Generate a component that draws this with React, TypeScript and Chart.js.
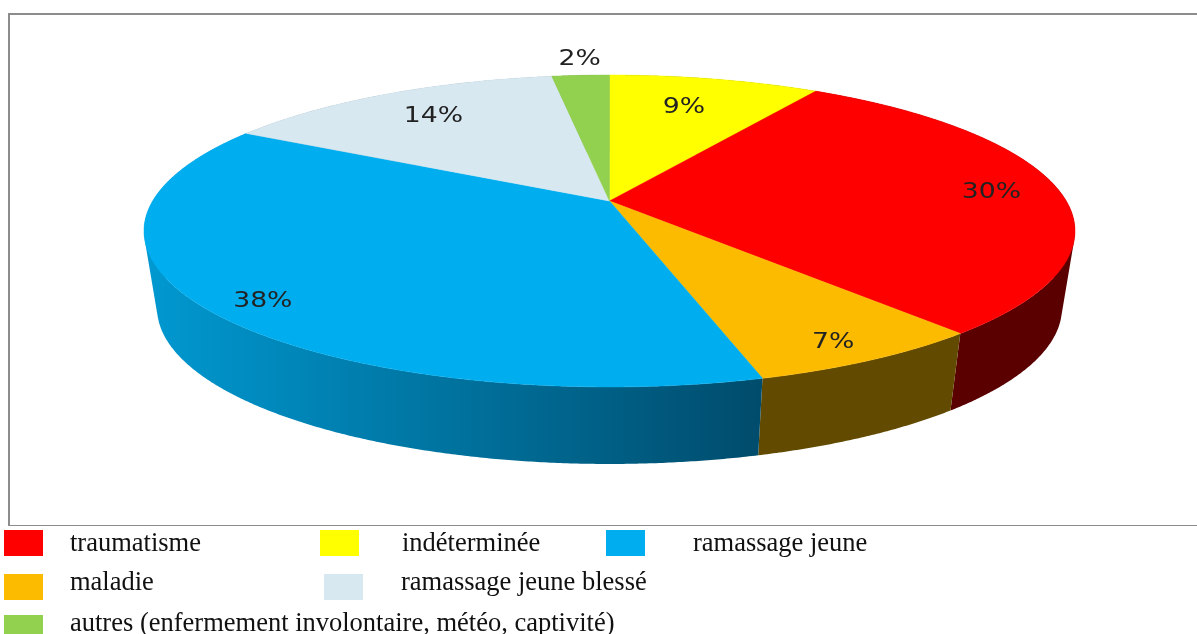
import React, { useEffect, useRef } from "react";
import { Chart, registerables } from "chart.js";

Chart.register(...registerables);

// Slices, clockwise from twelve o'clock (shown percentages are these values rounded)
const sliceNames = ["indéterminée", "traumatisme", "maladie", "ramassage jeune", "ramassage jeune blessé", "autres (enfermement involontaire, météo, captivité)"];
const sliceValues = [8.8, 29.8, 7.0, 37.6, 14.4, 2.4];
const sliceColors = ["#ffff00", "#ff0000", "#fdbb00", "#00aeef", "#d8e8f0", "#92d050"];

// Style constants
const sideStops: string[][] = [
  ["#707000", "#707000"],
  ["#600000", "#5a0000"],
  ["#6a5000", "#624a00"],
  ["#0098d0", "#004c6c"],
  ["#8a9aa0", "#8a9aa0"],
  ["#5f8a30", "#5f8a30"],
];
const labelRadii = [0.75, 0.85, 0.89, 0.89, 0.78, 1.17];
const labelNudgeDeg = [-1.5, 0, 0.6, -2.6, 0.8, 0.4];

// Legend rows: label index, swatch left, text left, swatch top, baseline
const legendLayout = [
  { i: 1, sx: 4, tx: 70, sy: 530, sh: 26, by: 551 },
  { i: 0, sx: 320, tx: 402, sy: 530, sh: 26, by: 551 },
  { i: 3, sx: 606, tx: 693, sy: 530, sh: 26, by: 551 },
  { i: 2, sx: 4, tx: 70, sy: 574, sh: 26, by: 590 },
  { i: 4, sx: 324, tx: 401, sy: 574, sh: 26, by: 590 },
  { i: 5, sx: 4, tx: 70, sy: 615, sh: 19, by: 631 },
];

// Projection of the pie disc
const CX = 609.5;
const CY = 201;
const AX = 456.8;
const BY = 150.2;
const K = 0.1923;
const DEPTH = 77;
const LOWER_SCALE = 0.972;

function project(angle: number, r: number, lower = false) {
  const u = Math.cos(angle) * r;
  const v = Math.sin(angle) * r;
  const w = 1 - K * v;
  const s = lower ? LOWER_SCALE : 1;
  return {
    x: CX + (AX * s * u) / w,
    y: CY + (BY * v) / w + (lower ? DEPTH : 0),
  };
}

function traceArc(ctx: CanvasRenderingContext2D, a0: number, a1: number, lower: boolean, move: boolean) {
  const n = Math.max(2, Math.ceil(Math.abs(a1 - a0) / 0.004));
  for (let j = 0; j <= n; j++) {
    const p = project(a0 + ((a1 - a0) * j) / n, 1, lower);
    if (j === 0 && move) ctx.moveTo(p.x, p.y);
    else ctx.lineTo(p.x, p.y);
  }
}

const piePlugin = {
  id: "perspectivePie",
  beforeDatasetDraw() {
    return false;
  },
  afterDatasetsDraw(chart: any) {
    const ctx: CanvasRenderingContext2D = chart.ctx;
    const arcs = chart.getDatasetMeta(0).data;
    ctx.save();

    // frame
    ctx.fillStyle = "#8c8c8c";
    ctx.fillRect(8, 13, 1189, 2);
    ctx.fillRect(8, 13, 2, 513);
    ctx.fillRect(8, 525, 1189, 1);

    // sides: thin, consistently wound quads in one path, so the silhouette edges are filled without seams
    arcs.forEach((arc: any, i: number) => {
      const g = ctx.createLinearGradient(150, 0, 760, 0);
      g.addColorStop(0, sideStops[i][0]);
      g.addColorStop(1, sideStops[i][1]);
      ctx.fillStyle = g;
      const n = Math.max(2, Math.ceil((arc.endAngle - arc.startAngle) / 0.006));
      ctx.beginPath();
      for (let j = 0; j < n; j++) {
        const a0 = arc.startAngle + ((arc.endAngle - arc.startAngle) * j) / n;
        const a1 = arc.startAngle + ((arc.endAngle - arc.startAngle) * (j + 1)) / n;
        const q = [project(a0, 1), project(a1, 1), project(a1, 1, true), project(a0, 1, true)];
        let area = 0;
        q.forEach((p, m) => {
          const o = q[(m + 1) % 4];
          area += p.x * o.y - o.x * p.y;
        });
        if (area < 0) q.reverse();
        ctx.moveTo(q[0].x, q[0].y);
        ctx.lineTo(q[1].x, q[1].y);
        ctx.lineTo(q[2].x, q[2].y);
        ctx.lineTo(q[3].x, q[3].y);
        ctx.closePath();
      }
      ctx.fill("nonzero");
    });

    // top faces
    arcs.forEach((arc: any, i: number) => {
      ctx.fillStyle = sliceColors[i];
      ctx.strokeStyle = sliceColors[i];
      ctx.lineWidth = 0.5;
      ctx.beginPath();
      ctx.moveTo(CX, CY);
      traceArc(ctx, arc.startAngle, arc.endAngle, false, false);
      ctx.closePath();
      ctx.fill();
      ctx.stroke();
    });

    // percentage labels
    ctx.fillStyle = "#222222";
    ctx.textAlign = "center";
    ctx.textBaseline = "middle";
    ctx.font = '21px "DejaVu Sans"';
    arcs.forEach((arc: any, i: number) => {
      const mid = (arc.startAngle + arc.endAngle) / 2 + (labelNudgeDeg[i] * Math.PI) / 180;
      const p = project(mid, labelRadii[i]);
      ctx.save();
      ctx.translate(p.x, p.y + 2);
      ctx.scale(1.27, 1);
      ctx.fillText(`${Math.round(sliceValues[i])}%`, 0, 0);
      ctx.restore();
    });

    // legend
    ctx.textAlign = "left";
    ctx.textBaseline = "alphabetic";
    ctx.font = '26.5px "Liberation Serif"';
    legendLayout.forEach((l) => {
      ctx.fillStyle = sliceColors[l.i];
      ctx.fillRect(l.sx, l.sy, 39, l.sh);
      ctx.fillStyle = "#111111";
      ctx.fillText(sliceNames[l.i], l.tx, l.by);
    });
    ctx.restore();
  },
};

export default function App() {
  const ref = useRef<HTMLCanvasElement | null>(null);
  useEffect(() => {
    if (!ref.current) return;
    const chart = new Chart(ref.current, {
      type: "pie",
      data: {
        labels: sliceNames,
        datasets: [{ data: sliceValues, backgroundColor: sliceColors, borderWidth: 0 }],
      },
      options: {
        responsive: false,
        animation: false,
        plugins: { legend: { display: false }, tooltip: { enabled: false } },
      },
      plugins: [piePlugin],
    } as any);
    return () => chart.destroy();
  }, []);
  return (
    <canvas
      ref={ref}
      width={1197}
      height={634}
      style={{ position: "fixed", left: 0, top: 0, width: 1197, height: 634, display: "block", background: "#fff" }}
    />
  );
}
